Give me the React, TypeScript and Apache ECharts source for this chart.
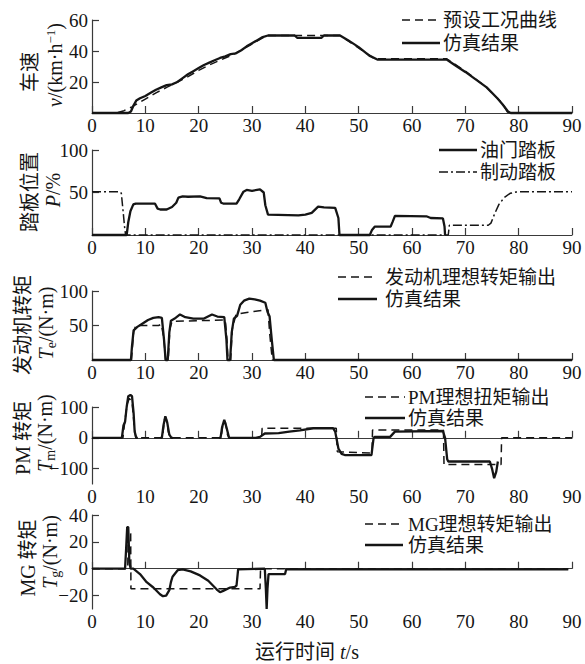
import React, { useEffect, useRef } from "react";
import * as echarts from "echarts";

const FONT = "'Liberation Serif','DejaVu Serif','Noto Sans CJK SC',serif";
const INK = "#151515";
const AXIS = "#3a3a3a";

// ---- data (t [s], value) ----
const speedPreset = [[0,0],[4.5,0],[6,1.5],[7.5,4],[9,7],[10,9],[12,13],[14,16.5],[16,20],[18,23.5],[20,27.5],[22,31],[24,34],[26,37],[28,40.5],[30,44.5],[32,48.5],[33,50],[46.5,50],[53,35],[66.5,35],[70,27],[74,16.5],[77,6],[78,0],[90,0]];
const speedSim = [[0,0],[6.8,0],[7.3,1],[7.8,5],[8.3,8],[9,9.5],[10,11],[11,13],[12,15],[13,16.5],[14,18],[15,18.5],[16,20],[17,22.5],[18,25],[19,27],[20,29],[21,31],[22,32.5],[23,34],[24,35.5],[25,36.5],[26,38],[27,38.5],[28,40.5],[29,43],[30,45],[31,47],[32,49],[33,50],[38,50],[38.5,48.5],[43,48.5],[43.5,50],[46.5,50],[48,47],[50,42.5],[52,37],[53.5,34.5],[66.5,34.5],[68,31],[70,26.5],[72,21.5],[74,16.5],[76,9.5],[77,5.5],[78,1],[78.5,0],[90,0]];

const throttle = [[0,0],[6.5,0],[6.8,15],[7.2,28],[7.75,36],[8.2,37],[11.8,37],[12.3,31],[12.8,30],[14,30],[15,33],[15.8,38],[16.2,44],[17,45.5],[18,45],[20.25,45.5],[21.5,43.5],[23.9,43],[24.2,38],[24.6,37],[27.1,37],[27.6,42],[28.4,51],[29,53],[30,52],[31.5,53.7],[32.2,50],[32.5,35],[33,24],[38.7,23],[40,24],[41.2,26],[42.4,33.3],[43.5,32.5],[45.6,32],[46.2,20],[46.4,0],[52.1,0],[52.5,6],[53,9.8],[56,10],[56.4,16],[56.8,22.5],[62.7,22],[63.5,20],[65.8,19.5],[66.1,10],[66.2,0]];
const brake = [[0,51],[5.2,51],[5.5,49],[5.8,30],[6.1,10],[6.3,0],[66.8,0],[67,11.5],[74.3,11.5],[74.8,14],[75.5,25],[76.3,36],[77.3,44],[78.4,49],[79.5,50.5],[81,51],[90,51]];

const engIdeal = [[0,0],[7.4,0],[7.8,40],[8.2,50],[12.5,50],[13,52],[13.5,30],[13.8,0],[14.3,0],[14.6,45],[15,56],[20,57],[25,58],[25.3,30],[25.5,0],[26,0],[26.3,45],[27,66],[29,69],[31,71],[33,73],[33.3,40],[33.8,0],[90,0]];
const engSim = [[0,0],[7.3,0],[7.5,20],[7.8,43],[8.5,48],[9.5,53],[10.5,58],[11.5,61],[12.5,62],[13.1,61],[13.5,30],[13.8,0],[14.2,0],[14.5,40],[14.8,57],[15.5,60],[16.5,66],[17.5,62],[19,60],[21,60],[22.5,66],[23.5,63],[24.8,62],[25.2,30],[25.4,0],[25.9,0],[26.2,40],[26.6,60],[27.2,64],[27.8,80],[28.5,86],[29.5,89],[30.5,88],[31.5,86],[32.5,83],[32.9,70],[33.3,63],[33.7,30],[34.1,0],[90,0]];

const pmIdeal = [[0,0],[5.8,0],[6.2,60],[6.6,110],[7.0,128],[7.5,118],[7.9,40],[8.2,0],[13.2,0],[13.6,60],[13.9,65],[14.3,20],[14.7,0],[24.2,0],[24.6,50],[25,52],[25.4,10],[25.7,0],[31.8,0],[31.9,31],[45.8,31],[46,-45],[52.5,-50],[52.6,25],[65.9,25],[66,-87],[76.7,-87],[76.8,0],[90,0]];
const pmSim = [[0,0],[5.6,0],[5.9,40],[6.2,52],[6.5,100],[6.8,135],[7.2,139],[7.5,135],[7.8,80],[8.0,20],[8.3,0],[8.6,0],[null,null],[12.8,0],[13.1,0],[13.4,40],[13.75,70],[14.1,50],[14.5,10],[14.9,0],[15.2,0],[null,null],[23.8,0],[24.1,0],[24.4,35],[24.8,58],[25.2,35],[25.7,0],[30.7,0],[31.5,3],[32.4,14],[35,15],[37,20],[39,24],[41.5,31],[45.2,31],[45.6,20],[46.2,-35],[46.8,-52],[47.4,-56],[52.4,-56],[52.8,0],[53,3],[55.9,3],[56.8,20],[65.8,22],[66.2,0],[66.6,-70],[66.8,-77],[74.6,-77],[75,-100],[75.4,-131],[75.8,-110],[76.1,-77]];

const mgIdeal = [[0,0],[6.7,0],[6.8,28],[7.25,28],[7.3,-15],[31.5,-15],[31.6,0],[89.3,0]];
const mgSim = [[0,0],[6.2,0],[6.4,15],[6.6,31],[6.8,31],[7.0,5],[7.25,0],[7.75,0],[9,-4],[10.25,-10],[11.5,-14],[12.75,-19],[13.3,-20.5],[13.9,-20],[14.5,-16],[14.8,-10],[15.1,-6],[16.1,-1],[17,-0.5],[18.5,-2],[20.25,-5],[21.8,-9],[23.4,-15.5],[24,-17.5],[24.6,-16.5],[25.9,-14],[26.8,-13.5],[27.1,-12.5],[27.4,-0.5],[32.4,0],[32.6,-15],[32.75,-30],[32.9,-15],[33.1,-4],[36.2,-4],[36.4,-0.5],[89.3,-0.5]];

// ---- axes ----
const xMin = 0, xMax = 90, xStep = 10;
const yRanges = [[0, 60], [0, 100], [0, 100], [-150, 100], [-30, 40]];
const yTicks = [[20, 40, 60], [50, 100], [50, 100], [-100, 0, 100], [-20, 0, 20, 40]];

const legendNames = [
  ["预设工况曲线", "仿真结果"],
  ["油门踏板", "制动踏板"],
  ["发动机理想转矩输出", "仿真结果"],
  ["PM理想扭矩输出", "仿真结果"],
  ["MG理想转矩输出", "仿真结果"],
];

const grids = [
  { top: 20, height: 93 },
  { top: 150, height: 85 },
  { top: 291, height: 69 },
  { top: 407, height: 77 },
  { top: 515, height: 94 },
];

const DASH = [8, 5];
const DASHDOT = [9, 3, 2, 3];

function App() {
  const ref = useRef<HTMLDivElement>(null);
  useEffect(() => {
    if (!ref.current) return;
    const chart = echarts.init(ref.current, undefined, { renderer: "svg" });

    const xAxis = grids.map((_, i) => ({
      type: "value",
      gridIndex: i,
      min: xMin,
      max: xMax,
      interval: xStep,
      axisLine: { show: true, lineStyle: { color: AXIS, width: 1.2 } },
      axisTick: { show: true, inside: true, length: 7, lineStyle: { color: AXIS, width: 1.2 } },
      axisLabel: { fontSize: 19, color: INK, fontFamily: FONT, margin: 3 },
      splitLine: { show: false },
    }));
    const yAxis = grids.map((_, i) => ({
      type: "value",
      gridIndex: i,
      min: yRanges[i][0],
      max: yRanges[i][1],
      axisLine: { show: true, onZero: false, lineStyle: { color: AXIS, width: 1.2 } },
      axisTick: { show: true, inside: true, length: 7, customValues: yTicks[i], lineStyle: { color: AXIS, width: 1.2 } },
      axisLabel: {
        fontSize: 19, color: INK, fontFamily: FONT, margin: 4,
        customValues: yTicks[i],
        formatter: (v: number) => (v < 0 ? "\u2212" + String(-v) : String(v)),
      },
      splitLine: { show: false },
    }));

    const line = (data: any, i: number, dash: any, width: number) => ({
      type: "line",
      xAxisIndex: i,
      yAxisIndex: i,
      data,
      showSymbol: false,
      symbol: "none",
      clip: false,
      connectNulls: false,
      lineStyle: { color: INK, width, type: dash },
      silent: true,
    });

    const series = [
      line(speedPreset, 0, DASH, 1.5),
      line(speedSim, 0, "solid", 2.3),
      line(brake, 1, DASHDOT, 1.5),
      line(throttle, 1, "solid", 2.3),
      line(engIdeal, 2, DASH, 1.5),
      line(engSim, 2, "solid", 2.3),
      line(pmIdeal, 3, DASH, 1.5),
      line(pmSim, 3, "solid", 2.3),
      line(mgIdeal, 4, DASH, 1.5),
      line(mgSim, 4, "solid", 2.3),
    ];

    // legends: [lineX1, lineX2, textX, row1Y, row2Y]
    const legPos = [
      [402, 440, 443, 20, 43],
      [439, 477, 480, 150, 172],
      [338, 377, 385, 277, 299],
      [365, 405, 408, 397, 418],
      [365, 403, 408, 524, 545],
    ];
    const legDash = [
      [DASH, null],
      [null, DASHDOT],
      [DASH, null],
      [DASH, null],
      [DASH, null],
    ];
    const graphic: any[] = [];
    legPos.forEach((p, i) => {
      [0, 1].forEach((r) => {
        const y = r === 0 ? p[3] : p[4];
        graphic.push({
          type: "line",
          shape: { x1: p[0], y1: y, x2: p[1], y2: y },
          style: { stroke: INK, lineWidth: legDash[i][r] ? 1.5 : 2.3, lineDash: legDash[i][r] || null },
          silent: true,
        });
        graphic.push({
          type: "text",
          x: p[2],
          y,
          style: {
            text: legendNames[i][r],
            fontSize: 19,
            fontFamily: FONT,
            fill: INK,
            align: "left",
            verticalAlign: "middle",
            textAlign: "left",
            textVerticalAlign: "middle",
          },
          silent: true,
        });
      });
    });

    const rich = {
      c: { fontSize: 20, fontFamily: FONT, fill: INK, color: INK },
      n: { fontSize: 20, fontFamily: FONT, fill: INK, color: INK },
      i: { fontSize: 20, fontFamily: FONT, fontStyle: "italic", fill: INK, color: INK },
      sup: { fontSize: 13, fontFamily: FONT, fill: INK, color: INK, verticalAlign: "top", lineHeight: 22 },
      sub: { fontSize: 14, fontFamily: FONT, fill: INK, color: INK, verticalAlign: "bottom", lineHeight: 24 },
    };
    const vtext = (text: string, x: number, y: number) => ({
      type: "text",
      x,
      y,
      rotation: Math.PI / 2,
      style: {
        text,
        rich,
        fontSize: 20,
        fontFamily: FONT,
        fill: INK,
        align: "center",
        verticalAlign: "middle",
        textAlign: "center",
        textVerticalAlign: "middle",
      },
      silent: true,
    });
    graphic.push(
      vtext("{c|车速}", 30, 72),
      vtext("{i|v}{n|/(km·h}{sup|\u22121}{n|)}", 55, 65),
      vtext("{c|踏板位置}", 30, 192),
      vtext("{i|P}{n|/%}", 53, 190),
      vtext("{c|发动机转矩}", 23, 325),
      vtext("{i|T}{sub|e}{n|/(N·m)}", 46, 323),
      vtext("{n|PM }{c|转矩}", 23, 438),
      vtext("{i|T}{sub|m}{n|/(N·m)}", 45, 433),
      vtext("{n|MG }{c|转矩}", 28, 558),
      vtext("{i|T}{sub|g}{n|/(N·m)}", 50, 552),
      {
        type: "text",
        x: 307,
        y: 652,
        style: {
          text: "{n|运行时间 }{i|t}{n|/s}",
          rich,
          fontSize: 20,
          fontFamily: FONT,
          fill: INK,
          align: "center",
          verticalAlign: "middle",
          textAlign: "center",
          textVerticalAlign: "middle",
        },
        silent: true,
      }
    );

    chart.setOption({
      animation: false,
      backgroundColor: "#ffffff",
      grid: grids.map((g) => ({ left: 92, right: 13, top: g.top, height: g.height, containLabel: false })),
      xAxis,
      yAxis,
      series,
      graphic,
    });
    return () => chart.dispose();
  }, []);
  return (
    <div
      ref={ref}
      style={{ position: "absolute", left: 0, top: 0, width: 585, height: 664, background: "#fff" }}
    />
  );
}

export default App;
